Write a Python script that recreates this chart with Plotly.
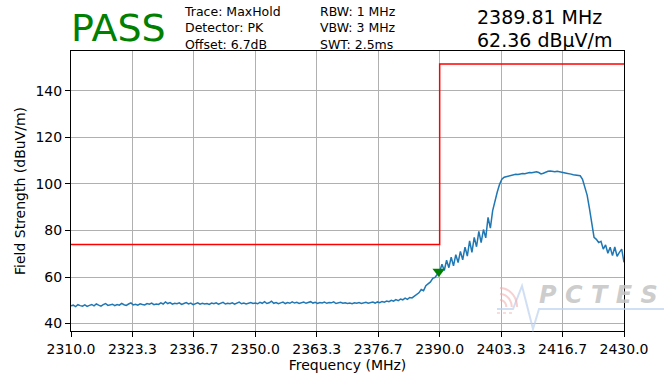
import numpy as np
import plotly.graph_objects as go

# Sweep: 2310-2430 MHz, 0.5 MHz per point
freq_start, freq_stop, freq_step = 2310.0, 2430.0, 0.5
freqs = np.round(np.arange(freq_start, freq_stop + freq_step / 2, freq_step), 2)

# MaxHold trace levels (dBuV/m), ten points per row (5 MHz)
level = [
    47.6, 47.9, 47.3, 48.1, 47.7, 47.5, 48.0, 47.4, 47.8, 48.2,
    47.6, 48.4, 47.9, 47.5, 48.1, 48.6, 47.8, 48.0, 48.3, 47.7,
    48.2, 47.9, 48.7, 48.1, 47.8, 48.4, 48.9, 48.0, 48.3, 47.9,
    48.5, 48.2, 48.0, 48.6, 48.3, 48.8, 48.1, 48.4, 48.2, 48.9,
    48.4, 49.3, 48.6, 49.0, 48.3, 48.7, 48.5, 48.9, 48.2, 48.6,
    49.0, 48.4, 48.8, 48.1, 48.5, 48.9, 48.3, 48.7, 48.4, 48.6,
    48.2, 48.8, 48.5, 48.9, 48.3, 48.6, 49.1, 48.4, 48.7, 48.5,
    48.9, 48.3, 48.6, 49.2, 48.5, 48.8, 48.4, 48.7, 49.0, 48.6,
    48.8, 48.5, 49.1, 48.7, 49.4, 48.6, 48.9, 49.6, 48.7, 49.0,
    48.5, 48.9, 49.2, 48.6, 49.0, 48.7, 49.3, 48.8, 49.1, 48.6,
    48.9, 49.2, 48.7, 49.0, 49.4, 48.8, 49.1, 48.6, 49.0, 48.8,
    49.2, 48.7, 49.0, 48.9, 49.3, 48.6, 48.9, 49.1, 48.7, 48.9,
    48.6, 48.8, 48.5, 48.9, 48.7, 49.0, 48.6, 48.8, 49.1, 48.7,
    48.9, 49.2, 48.8, 49.3, 49.0, 49.5, 49.2, 49.7, 49.4, 50.0,
    49.6, 50.3, 49.8, 50.5, 50.2, 50.9, 50.4, 51.2, 51.0, 51.8,
    52.4, 53.2, 54.6, 54.1, 56.3, 57.0, 57.9, 59.4, 59.8, 61.2,
    62.4, 65.5, 62.8, 67.2, 64.0, 68.5, 64.8, 69.6, 66.2, 71.0,
    67.4, 72.8, 69.0, 75.5, 70.6, 77.0, 73.0, 79.6, 74.8, 80.4,
    76.8, 85.6, 81.0, 88.5, 93.0, 96.5, 99.8, 102.0, 102.9, 103.2,
    103.5, 103.8, 103.9, 104.1, 104.0, 104.3, 104.5, 104.4, 104.7, 104.9,
    104.8, 105.1, 105.2, 104.9, 104.3, 104.6, 105.1, 105.4, 105.5, 105.3,
    105.2, 105.4, 105.1, 104.9, 104.8, 104.6, 104.5, 104.2, 103.9, 103.8,
    103.8, 103.5, 102.0, 98.8, 95.2, 89.5, 82.5, 77.0, 76.2, 74.8,
    75.3, 72.0, 73.8, 70.2, 72.8, 69.2, 72.9, 68.9, 70.6, 72.0,
    66.3,
]

# Limit line (step at the band edge)
limit_freq = [2310.0, 2390.0, 2390.0, 2430.0]
limit_level = [74.0, 74.0, 151.5, 151.5]

# Marker
marker_freq = 2389.81
marker_level = 62.36

# Axis ticks
x_ticks = [2310.0, 2323.33, 2336.67, 2350.0, 2363.33, 2376.67, 2390.0, 2403.33, 2416.67, 2430.0]
x_tick_text = ["2310.0", "2323.3", "2336.7", "2350.0", "2363.3", "2376.7", "2390.0", "2403.3", "2416.7", "2430.0"]
y_ticks = [40, 60, 80, 100, 120, 140]

# Header texts
verdict = "PASS"
info_left = ["Trace: MaxHold", "Detector: PK", "Offset: 6.7dB"]
info_mid = ["RBW: 1 MHz", "VBW: 3 MHz", "SWT: 2.5ms"]
marker_text = [f"{marker_freq:.2f} MHz", f"{marker_level:.2f} dBμV/m"]

W, H = 664, 374
ML, MR, MT, MB = 71, 40, 51, 43
FONT = "DejaVu Sans"


def paper(x, y):
    """Convert page pixels to paper coordinates."""
    return (x - ML) / (W - ML - MR), (H - MB - y) / (H - MT - MB)


fig = go.Figure()
fig.add_trace(go.Scatter(x=freqs, y=level, mode="lines",
                         line=dict(color="#1f77b4", width=1.5), hoverinfo="skip"))
fig.add_trace(go.Scatter(x=limit_freq, y=limit_level, mode="lines",
                         line=dict(color="#ff0000", width=1.5), hoverinfo="skip"))
fig.add_trace(go.Scatter(x=[marker_freq], y=[marker_level], mode="markers",
                         marker=dict(symbol="triangle-down", size=11, color="#008000",
                                     line=dict(width=0)), hoverinfo="skip"))

annotations = []


def add_text(text, x, y, size, color="black", **kw):
    px_, py_ = paper(x, y)
    annotations.append(dict(text=text, x=px_, y=py_, xref="paper", yref="paper",
                            xanchor="left", yanchor="middle", showarrow=False, align="left",
                            font=dict(family=FONT, size=size, color=color), **kw))


add_text(verdict, 69, 28, 38, "#008000")
add_text("<br>".join(info_left), 182, 28, 12.5)
add_text("<br>".join(info_mid), 318, 28, 12.5)
add_text(marker_text[0], 475, 17.5, 19)
add_text(marker_text[1], 475, 40.0, 19)

# Watermark logo
wm_x, wm_y = paper(537, 295)
annotations.append(dict(text="<b><i>P C T E S</i></b>", x=wm_x, y=wm_y, xref="paper", yref="paper",
                        xanchor="left", yanchor="middle", showarrow=False,
                        font=dict(family=FONT, size=24, color="rgba(196,196,196,0.85)")))

shapes = []


def path_px(points):
    segs = []
    for i, (x, y) in enumerate(points):
        px_, py_ = paper(x, y)
        segs.append(("M" if i == 0 else "L") + f"{px_:.5f},{py_:.5f}")
    return " ".join(segs)


shapes.append(dict(type="path", xref="paper", yref="paper", layer="above",
                   path=path_px([(497, 309), (513, 309), (522, 286), (533, 329), (539, 309), (664, 309)]),
                   line=dict(color="rgba(190,210,240,0.7)", width=2)))
for r in (7, 13, 19):
    pts = []
    for a in np.linspace(0, np.pi / 2, 12):
        pts.append((500 + r * np.sin(a) * 0.9, 307 - r * np.cos(a)))
    shapes.append(dict(type="path", xref="paper", yref="paper", layer="above",
                       path=path_px(pts), line=dict(color="rgba(240,170,170,0.55)", width=2)))
shapes.append(dict(type="path", xref="paper", yref="paper", layer="above",
                   path=path_px([(497, 313), (513, 313)]),
                   line=dict(color="rgba(240,170,170,0.55)", width=1.5, dash="dot")))

axis_common = dict(showline=True, linecolor="black", linewidth=1, mirror=True,
                   ticks="outside", ticklen=5, tickcolor="black", tickwidth=1,
                   showgrid=True, gridcolor="#b0b0b0", gridwidth=1, zeroline=False,
                   automargin=False,
                   tickfont=dict(family=FONT, size=14, color="black"))

fig.update_layout(
    width=W, height=H,
    margin=dict(l=ML, r=MR, t=MT, b=MB, pad=0),
    paper_bgcolor="white", plot_bgcolor="white",
    showlegend=False,
    font=dict(family=FONT, color="black"),
    xaxis=dict(range=[freq_start, freq_stop], tickvals=x_ticks, ticktext=x_tick_text,
               title=dict(text="Frequency (MHz)", font=dict(family=FONT, size=14), standoff=2),
               **axis_common),
    yaxis=dict(range=[36.8, 157.1], tickvals=y_ticks,
               title=dict(text="Field Strength (dBuV/m)", font=dict(family=FONT, size=14), standoff=6),
               **axis_common),
    annotations=annotations,
    shapes=shapes,
)

fig.write_html("out.html")
